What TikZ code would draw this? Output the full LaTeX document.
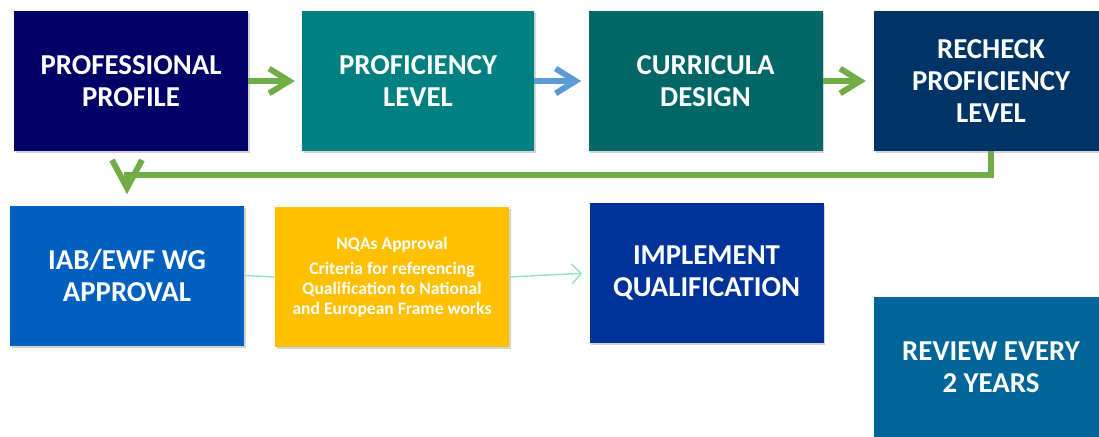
\documentclass[tikz,border=0pt]{standalone}
\usepackage{fontspec}
\setmainfont{Carlito}
\usetikzlibrary{arrows.meta,shadows}

\begin{document}
\begin{tikzpicture}[>=Straight Barb,
  box/.style={minimum width=5.85cm, minimum height=3.5cm, inner sep=0pt,
    align=center, text=white, font=\fontsize{20.5}{23}\selectfont\bfseries,
    drop shadow={shadow xshift=1.2pt, shadow yshift=-1.6pt, opacity=0.35}},
  flowarrow/.style={line width=4.2pt, -{Straight Barb[length=5mm, width=6.2mm]}},
  thinarrow/.style={line width=1pt, mintline}]

\definecolor{navybox}{RGB}{0, 0, 102}
\definecolor{tealbox}{RGB}{0, 128, 128}
\definecolor{darktealbox}{RGB}{0, 102, 102}
\definecolor{recheckbox}{RGB}{0, 51, 102}
\definecolor{approvebox}{RGB}{0, 96, 192}
\definecolor{nqabox}{RGB}{255, 192, 0}
\definecolor{implbox}{RGB}{0, 51, 153}
\definecolor{reviewbox}{RGB}{0, 102, 153}
\definecolor{greenarrow}{RGB}{112, 173, 71}
\definecolor{bluearrow}{RGB}{91, 155, 213}
\definecolor{mintline}{RGB}{150, 225, 190}

\useasboundingbox (0, 0) rectangle (27.475, 10.9);
\clip (0, 0) rectangle (27.475, 10.9);

% top row
\node[box, fill=navybox] (profile) at (3.275, 8.875) {PROFESSIONAL\\PROFILE};
\node[box, fill=tealbox, minimum width=5.8cm] (level) at (10.45, 8.875) {PROFICIENCY\\LEVEL};
\node[box, fill=darktealbox] (design) at (17.6375, 8.875) {CURRICULA\\DESIGN};
\node[box, fill=recheckbox] (recheck) at (24.775, 8.875) {RECHECK\\PROFICIENCY\\LEVEL};

% bottom row
\node[box, fill=approvebox] (iab) at (3.175, 4.0125) {IAB/EWF WG\\APPROVAL};
\node[box, fill=nqabox, font=\fontsize{12.5}{14}\selectfont\bfseries] (nqa) at (9.8, 3.975)
  {NQAs Approval\\[4pt]Criteria for referencing\\Qualification to National\\and European Frame works};
\node[box, fill=implbox] (impl) at (17.6625, 4.075) {IMPLEMENT\\QUALIFICATION};
\node[box, fill=reviewbox] (review) at (24.775, 1.725) {REVIEW EVERY\\2 YEARS};

% connectors
\draw[flowarrow, greenarrow, shorten >=0.175cm] (profile) -- (level);
\draw[flowarrow, bluearrow, shorten >=0.175cm] (level) -- (design);
\draw[flowarrow, greenarrow, shorten >=0.2cm] (design) -- (recheck);
\draw[flowarrow, greenarrow, shorten >=0.275cm, -{Straight Barb[length=7mm, width=7.5mm]}]
  (recheck.south) -- ++(0, -0.6) -| (iab.north);

\draw[thinarrow] (iab.east) -- (nqa.west);
\draw[thinarrow, shorten >=0.175cm, -{Straight Barb[length=2.4mm, width=5mm]}] (nqa.east) -- (impl.west);

\end{tikzpicture}
\end{document}
